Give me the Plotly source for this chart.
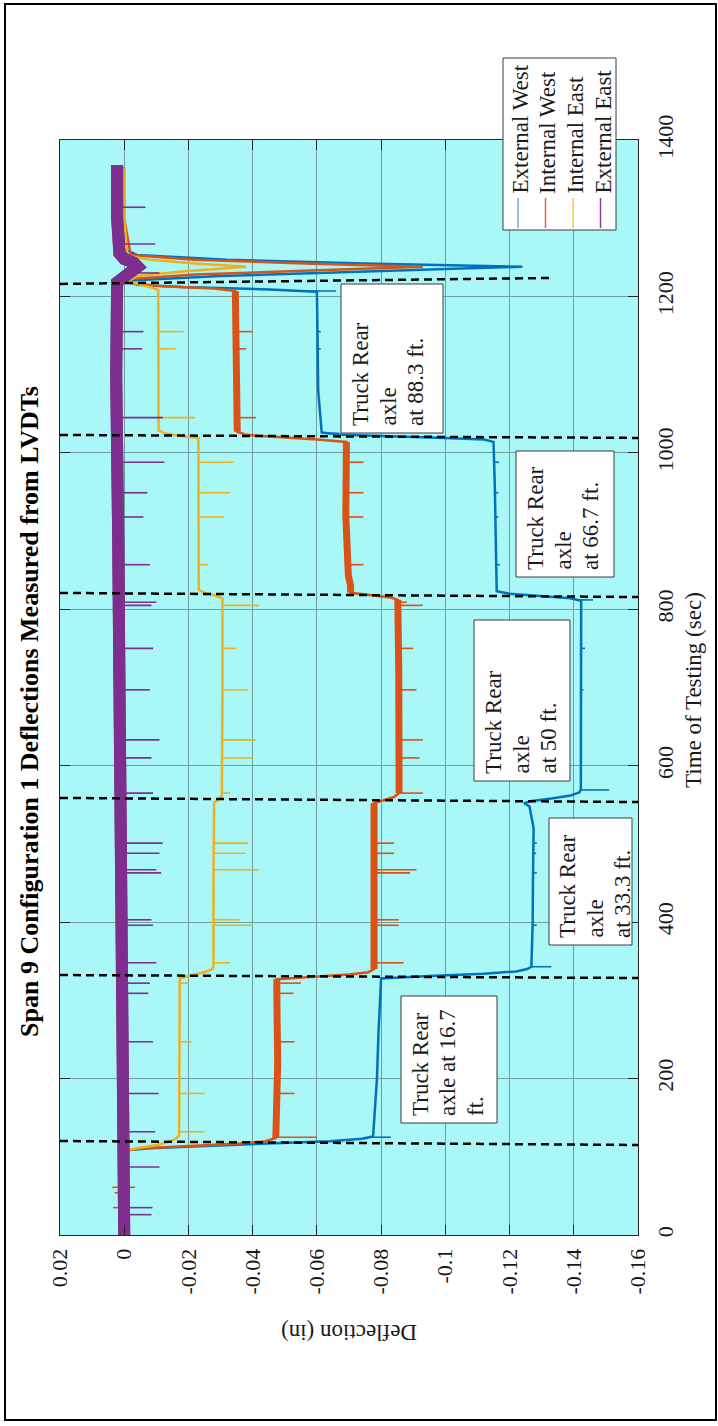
import numpy as np
import plotly.graph_objects as go

# ---------------------------------------------------------------
# LVDT deflection records: (time of testing [s], deflection [in])
# ---------------------------------------------------------------
ext_west = [
    (0, 0.0005), (60, 0.0005), (108, 0.0003), (111, -0.008), (114, -0.025), (117, -0.045),
    (120, -0.064), (123, -0.074), (126, -0.0775), (150, -0.0779), (200, -0.0787),
    (260, -0.0792), (320, -0.0798), (328, -0.0800), (331, -0.095), (334, -0.112),
    (337, -0.122), (340, -0.1255), (343, -0.1268), (400, -0.1272), (460, -0.1273),
    (520, -0.1275), (548, -0.1262), (552, -0.1245), (555, -0.127), (558, -0.133),
    (562, -0.139), (566, -0.1418), (570, -0.1422), (650, -0.1423), (730, -0.1423),
    (811, -0.1423), (814, -0.139), (817, -0.130), (820, -0.120), (823, -0.1160),
    (900, -0.1157), (960, -0.1154), (1014, -0.1150), (1017, -0.112), (1019, -0.100),
    (1021, -0.082), (1023, -0.068), (1026, -0.0615), (1080, -0.0604), (1150, -0.0602),
    (1206, -0.0600), (1209, -0.045), (1212, -0.018), (1215, -0.004), (1220, -0.0005),
    (1226, -0.030), (1232, -0.078), (1238, -0.124), (1242, -0.075), (1247, -0.032),
    (1253, -0.004), (1260, 0.0), (1310, 0.0005), (1365, 0.0008),
]
int_west = [
    (0, 0.0), (60, 0.0), (108, 0.0), (111, -0.006), (114, -0.022), (117, -0.036),
    (120, -0.044), (124, -0.0472), (160, -0.0476), (220, -0.0478), (280, -0.0476),
    (327, -0.0475), (330, -0.058), (333, -0.070), (336, -0.076), (340, -0.0778),
    (420, -0.0777), (500, -0.0776), (552, -0.0778), (556, -0.081), (560, -0.084),
    (565, -0.0856), (640, -0.0857), (720, -0.0855), (812, -0.0852), (815, -0.083),
    (818, -0.076), (821, -0.0705), (830, -0.0705), (843, -0.0698), (920, -0.0690),
    (1014, -0.0692), (1017, -0.060), (1020, -0.047), (1023, -0.038), (1027, -0.0352),
    (1100, -0.0348), (1207, -0.0346), (1210, -0.028), (1213, -0.012), (1217, -0.002),
    (1222, -0.001), (1228, -0.022), (1233, -0.058), (1238, -0.093), (1242, -0.056),
    (1247, -0.022), (1253, -0.002), (1300, 0.0), (1365, 0.0),
]
int_east = [
    (0, 0.0), (108, 0.0), (111, -0.004), (115, -0.010), (119, -0.014), (123, -0.016),
    (127, -0.0171), (220, -0.0172), (328, -0.0173), (332, -0.021), (336, -0.025),
    (340, -0.0275), (345, -0.0278), (450, -0.0278), (553, -0.0280), (557, -0.0295),
    (562, -0.0304), (700, -0.0306), (814, -0.0306), (818, -0.028), (821, -0.025),
    (825, -0.0232), (920, -0.0231), (1019, -0.0231), (1022, -0.017), (1025, -0.0125),
    (1029, -0.0107), (1120, -0.0106), (1208, -0.0106), (1211, -0.009), (1215, -0.005),
    (1219, -0.001), (1226, -0.004), (1232, -0.018), (1238, -0.038), (1242, -0.022),
    (1247, -0.008), (1252, -0.001), (1300, 0.0), (1365, 0.0),
]
ext_east = [
    (0, 0.0), (150, 0.0002), (300, 0.0010), (500, 0.0012), (700, 0.0015), (900, 0.0019),
    (1100, 0.0025), (1210, 0.0030), (1218, 0.0022), (1225, 0.0), (1232, -0.0025),
    (1238, -0.0042), (1243, -0.003), (1248, 0.0), (1255, 0.0015), (1300, 0.0022),
    (1368, 0.0022),
]

# time windows where a record sits on a noisy plateau (drawn as a wide band)
ext_west_plateaus = []
int_west_plateaus = [(124, 327), (340, 552), (565, 812), (821, 1014), (1027, 1207)]
int_east_plateaus = []
ext_east_plateaus = [(0, 1368)]

# short transients: (time [s], peak deflection [in])
ext_west_spikes = [
    (125, -0.083), (343, -0.133), (396, -0.1285), (463, -0.1285), (488, -0.1283),
    (501, -0.1285), (569, -0.151), (697, -0.1430), (750, -0.1435), (812, -0.146),
    (857, -0.1170), (918, -0.1165), (949, -0.1165), (988, -0.1167), (1025, -0.067),
    (1133, -0.0612), (1155, -0.0612), (1207, -0.066),
]
int_west_spikes = [
    (35, 0.0035), (54, 0.0030), (61, 0.0037), (61, -0.0034), (125, -0.060), (181, -0.053),
    (247, -0.053), (309, -0.0527), (322, -0.055), (348, -0.087), (396, -0.0855),
    (403, -0.0855), (463, -0.089), (467, -0.091), (488, -0.084), (501, -0.084),
    (565, -0.093), (610, -0.092), (633, -0.093), (697, -0.091), (750, -0.090),
    (805, -0.093), (809, -0.088), (857, -0.0745), (918, -0.0745), (949, -0.0745),
    (988, -0.0745), (1045, -0.041), (1133, -0.038), (1155, -0.040),
]
int_east_spikes = [
    (132, -0.025), (181, -0.025), (247, -0.021), (322, -0.020), (348, -0.033),
    (396, -0.040), (403, -0.036), (467, -0.042), (488, -0.0377), (501, -0.0386),
    (565, -0.033), (610, -0.040), (633, -0.041), (697, -0.0386), (750, -0.035),
    (805, -0.042), (857, -0.026), (918, -0.031), (949, -0.033), (988, -0.034),
    (1045, -0.022), (1133, -0.016), (1155, -0.0185),
]
ext_east_spikes = [
    (26, -0.0085), (35, -0.0088), (87, -0.011), (132, -0.0097), (181, -0.0107),
    (247, -0.009), (309, -0.0075), (322, -0.008), (348, -0.010), (396, -0.009),
    (403, -0.0085), (463, -0.0115), (467, -0.010), (488, -0.011), (501, -0.012),
    (565, -0.009), (610, -0.0085), (633, -0.011), (697, -0.008), (750, -0.009),
    (805, -0.0085), (809, -0.010), (857, -0.008), (918, -0.006), (949, -0.0072),
    (988, -0.0125), (1045, -0.012), (1133, -0.0056), (1155, -0.006), (1230, -0.011),
    (1267, -0.0097), (1314, -0.0066),
]

series_names = ["External West", "Internal West", "Internal East", "External East"]
series_colors = ["#0072BD", "#D95319", "#EDB120", "#7E2F8E"]
legend_colors = ["#6aaee0", "#dc6a3c", "#f3c45c", "#8b3f9c"]
line_widths = [2.5, 2.5, 2.5, 12]
band_widths = [0, 7, 0, 12]

# axle position markers: (time at left edge, time at right end, deflection at right end)
axle_lines = [
    (120.2, 115.1, -0.16),
    (332.4, 328.6, -0.16),
    (558.8, 553.6, -0.16),
    (820.9, 815.7, -0.16),
    (1022.9, 1019.1, -0.16),
    (1216.0, 1223.6, -0.1327),
]
axle_labels = [
    ["Truck Rear", "axle at 16.7", "ft."],
    ["Truck Rear", "axle", "at 33.3 ft."],
    ["Truck Rear", "axle", "at 50 ft."],
    ["Truck Rear", "axle", "at 66.7 ft."],
    ["Truck Rear", "axle", "at 88.3 ft."],
]

defl_ticks = [0.02, 0.0, -0.02, -0.04, -0.06, -0.08, -0.10, -0.12, -0.14, -0.16]
defl_ticktext = ["0.02", "0", "-0.02", "-0.04", "-0.06", "-0.08", "-0.1", "-0.12", "-0.14", "-0.16"]
time_ticks = [0, 200, 400, 600, 800, 1000, 1200, 1400]

title_text = "Span 9 Configuration 1 Deflections Measured from LVDTs"
xlabel_text = "Time of Testing (sec)"
ylabel_text = "Deflection (in)"

# ---------------------------------------------------------------
# page geometry (pixels) -> paper coordinates
# ---------------------------------------------------------------
W, H = 718, 1426
PL, PR, PT, PB = 60, 638, 140, 1235


def px(x):
    return (x - PL) / (PR - PL)


def py(y):
    return (PB - y) / (PB - PT)


SERIF = "Liberation Serif, Times New Roman, serif"
TXT = "#1a1a1a"

fig = go.Figure()

paths = [ext_west, int_west, int_east, ext_east]
plateaus = [ext_west_plateaus, int_west_plateaus, int_east_plateaus, ext_east_plateaus]
spikes = [ext_west_spikes, int_west_spikes, int_east_spikes, ext_east_spikes]

for name, path, plat, spk, col, lw, bw in zip(series_names, paths, plateaus, spikes,
                                             series_colors, line_widths, band_widths):
    t = [p[0] for p in path]
    d = [p[1] for p in path]
    # full record as a thin line
    fig.add_trace(go.Scatter(x=d, y=t, mode="lines", name=name,
                             line=dict(color=col, width=lw), showlegend=False,
                             hoverinfo="skip"))
    # noisy plateaus as wide bands
    if plat:
        bx, by = [], []
        for t0, t1 in plat:
            seg = [p for p in path if t0 <= p[0] <= t1]
            bx += [p[1] for p in seg] + [None]
            by += [p[0] for p in seg] + [None]
        fig.add_trace(go.Scatter(x=bx, y=by, mode="lines", line=dict(color=col, width=bw),
                                 showlegend=False, hoverinfo="skip"))
    # transients
    sx, sy = [], []
    for ts, tip in spk:
        base = float(np.interp(ts, t, d))
        sx += [base, tip, None]
        sy += [ts, ts, None]
    fig.add_trace(go.Scatter(x=sx, y=sy, mode="lines", line=dict(color=col, width=1.6),
                             showlegend=False, hoverinfo="skip"))

# dashed axle-position lines
for t_left, t_right, d_right in axle_lines:
    fig.add_trace(go.Scatter(x=[0.02, d_right], y=[t_left, t_right], mode="lines",
                             line=dict(color="black", width=2.5, dash="8px,5px"),
                             showlegend=False, hoverinfo="skip"))

shapes = []
annotations = []

# outer figure frame
shapes.append(dict(type="rect", xref="paper", yref="paper",
                   x0=px(5), x1=px(716), y0=py(1420), y1=py(4),
                   line=dict(color="black", width=2), fillcolor="rgba(0,0,0,0)", layer="above"))

# text boxes for axle positions: (left, right, top, bottom) in pixels
label_boxes = [
    (401, 497, 996, 1123),
    (549, 632, 818, 945),
    (474, 570, 620, 781),
    (516, 614, 451, 577),
    (341, 443, 284, 433),
]
for (x0, x1, y0, y1), lines in zip(label_boxes, axle_labels):
    shapes.append(dict(type="rect", xref="paper", yref="paper",
                       x0=px(x0), x1=px(x1), y0=py(y1), y1=py(y0),
                       line=dict(color="#3a3a3a", width=1), fillcolor="white", layer="above"))
    for i, txt in enumerate(lines):
        annotations.append(dict(text=txt, xref="paper", yref="paper",
                                x=px(x0 + 19 + 27.5 * i), y=py(y1 - 6),
                                xanchor="center", yanchor="bottom", textangle=-90,
                                showarrow=False, borderpad=0,
                                font=dict(family=SERIF, size=23, color=TXT)))

# legend box
lg_x0, lg_x1, lg_y0, lg_y1 = 503, 616, 58, 230
shapes.append(dict(type="rect", xref="paper", yref="paper",
                   x0=px(lg_x0), x1=px(lg_x1), y0=py(lg_y1), y1=py(lg_y0),
                   line=dict(color="#3a3a3a", width=1), fillcolor="white", layer="above"))
for i, (name, col) in enumerate(zip(series_names, legend_colors)):
    cx = 518 + 27.5 * i
    shapes.append(dict(type="line", xref="paper", yref="paper",
                       x0=px(cx), x1=px(cx), y0=py(228), y1=py(198),
                       line=dict(color=col, width=1.5), layer="above"))
    annotations.append(dict(text=name, xref="paper", yref="paper",
                            x=px(cx + 2), y=py(195), xanchor="center", yanchor="bottom",
                            textangle=-90, showarrow=False, borderpad=0,
                            font=dict(family=SERIF, size=23, color=TXT)))

# title and axis titles
annotations.append(dict(text="<b>" + title_text + "</b>", xref="paper", yref="paper",
                        x=px(30), y=py(712), xanchor="center", yanchor="middle",
                        textangle=-90, showarrow=False,
                        font=dict(family=SERIF, size=26, color="black")))
annotations.append(dict(text=xlabel_text, xref="paper", yref="paper",
                        x=px(693), y=py(690), xanchor="center", yanchor="middle",
                        textangle=-90, showarrow=False,
                        font=dict(family=SERIF, size=23, color=TXT)))
annotations.append(dict(text=ylabel_text, xref="paper", yref="paper",
                        x=px(349), y=py(1333), xanchor="center", yanchor="middle",
                        textangle=180, showarrow=False,
                        font=dict(family=SERIF, size=23, color=TXT)))

axis_common = dict(
    ticks="inside", ticklen=10, tickwidth=1, tickcolor="#262626",
    mirror="ticks", showline=True, linecolor="#262626", linewidth=1,
    showgrid=True, gridcolor="#6e9e9e", gridwidth=1, zeroline=False,
    tickangle=-90, tickfont=dict(family=SERIF, size=22, color=TXT),
)

fig.update_layout(
    width=W, height=H, autosize=False,
    margin=dict(l=PL, r=W - PR, t=PT, b=H - PB, pad=0),
    paper_bgcolor="white", plot_bgcolor="#aaf7f7",
    showlegend=False,
    xaxis=dict(range=[0.02, -0.16], tickvals=defl_ticks, ticktext=defl_ticktext,
               ticklabelstandoff=4, **axis_common),
    yaxis=dict(range=[0, 1400], tickvals=time_ticks, side="right",
               ticklabelstandoff=8, **axis_common),
    shapes=shapes,
    annotations=annotations,
)

fig.write_html("out.html", config={"displayModeBar": False})
